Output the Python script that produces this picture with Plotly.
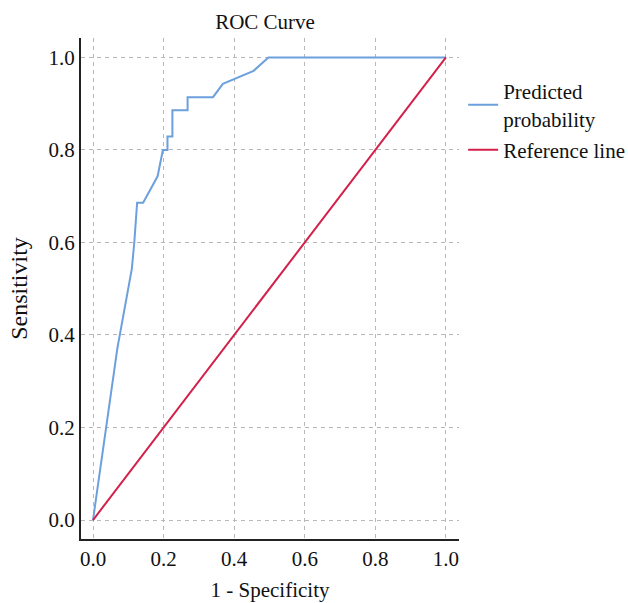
import plotly.graph_objects as go

fpr = [0, 0.069, 0.110, 0.117, 0.125, 0.142, 0.183, 0.198, 0.211, 0.211, 0.225, 0.225,
       0.268, 0.268, 0.340, 0.368, 0.455, 0.497, 1.0]
tpr = [0, 0.371, 0.543, 0.600, 0.686, 0.686, 0.743, 0.800, 0.800, 0.829, 0.829, 0.886,
       0.886, 0.914, 0.914, 0.943, 0.971, 1.0, 1.0]
ref_x = [0, 1]
ref_y = [0, 1]
tick_vals = [0, 0.2, 0.4, 0.6, 0.8, 1.0]
tick_text = ["0.0", "0.2", "0.4", "0.6", "0.8", "1.0"]

FONT = "Liberation Serif"
FS = 21

# figure slightly wider than the window (legend needs room; excess is clipped)
W, H = 660, 603
L, T = 81, 38
R, B = 201, 64

fig = go.Figure()
fig.add_trace(go.Scatter(x=fpr, y=tpr, mode="lines", name="Predicted<br>probability",
                         legendgroup="a",
                         line=dict(color="#6CA0DC", width=2)))
fig.add_trace(go.Scatter(x=ref_x, y=ref_y, mode="lines", name="Reference line",
                         legendgroup="b",
                         line=dict(color="#D2204A", width=2)))

axis_common = dict(
    tickvals=tick_vals, ticktext=tick_text,
    showgrid=True, gridcolor="#b8b8b8", gridwidth=1.3, griddash="4px,4px",
    zeroline=False, showline=True, linecolor="#222", linewidth=2,
    ticks="", tickfont=dict(family=FONT, size=FS, color="#111"),
    mirror=False, automargin=False,
)

fig.update_layout(
    width=W, height=H,
    margin=dict(l=L, r=R, t=T, b=B),
    paper_bgcolor="white", plot_bgcolor="white",
    font=dict(family=FONT, color="#111"),
    title=dict(text="ROC Curve", x=265/W, xanchor="center", y=1 - 22/H, yanchor="middle",
               font=dict(family=FONT, size=FS, color="#111")),
    xaxis=dict(range=[-0.034, 1.037],
               title=dict(text="1 - Specificity", font=dict(family=FONT, size=FS), standoff=12),
               **axis_common),
    yaxis=dict(range=[-0.041, 1.042],
               title=dict(text="Sensitivity", font=dict(family=FONT, size=24), standoff=14),
               **axis_common),
    legend=dict(x=1.011, xanchor="left", y=0.934, yanchor="top",
                font=dict(family=FONT, size=FS, color="#111"),
                bgcolor="rgba(0,0,0,0)", tracegroupgap=1, itemwidth=30),
    showlegend=True,
)

fig.write_html("out.html", config={"displayModeBar": False},
               post_script="document.body.style.margin='0';document.body.style.overflow='hidden';")
